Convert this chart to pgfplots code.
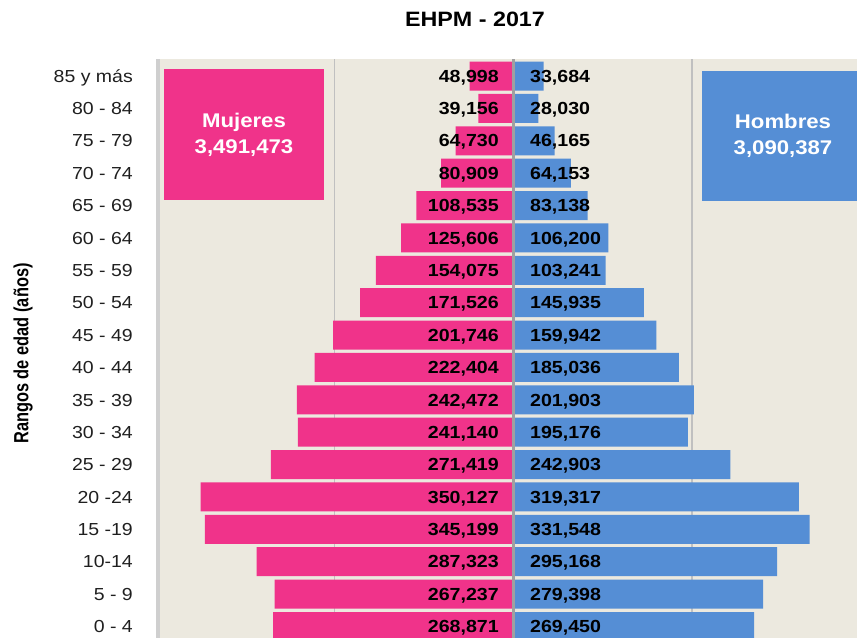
\documentclass[border=0pt]{standalone}
\usepackage{pgfplots}
\pgfplotsset{compat=1.18}
\usepackage{pgfplotstable}
\usepackage{fontspec}
\setmainfont{Liberation Sans}[FakeStretch=1.12]
\newfontfamily\ylabfont{Liberation Sans}[FakeStretch=0.8]
\definecolor{mpink}{HTML}{F0338A}
\definecolor{mblue}{HTML}{558ED5}
\definecolor{bgbeige}{HTML}{ECE9DF}
\definecolor{gridgray}{HTML}{C0C0C0}
\definecolor{centergray}{HTML}{A0A0A0}
\definecolor{leftgray}{HTML}{CFCFCF}

\pgfplotstableread{
idx w m
0 268871 269450
1 267237 279398
2 287323 295168
3 345199 331548
4 350127 319317
5 271419 242903
6 241140 195176
7 242472 201903
8 222404 185036
9 201746 159942
10 171526 145935
11 154075 103241
12 125606 106200
13 108535 83138
14 80909 64153
15 64730 46165
16 39156 28030
17 48998 33684
}\pyr

\begin{document}
\begin{tikzpicture}
\useasboundingbox (-156bp,0bp) rectangle (701bp,638bp);
\clip (-156bp,0bp) rectangle (701bp,638bp);
\begin{axis}[
  scale only axis, width=701bp, height=578.5bp,
  xmin=-400000, xmax=384500, ymin=-0.355, ymax=17.51,
  axis line style={draw=none},
  axis background/.style={fill=bgbeige},
  xtick={-200000,200000}, xticklabels={}, xmajorgrids,
  major grid style={color=gridgray, line width=1.3bp},
  ytick={0,...,17},
  yticklabels={0 - 4, 5 - 9, 10-14, 15 -19, 20 -24, 25 - 29, 30 - 34, 35 - 39, 40 - 44, 45 - 49, 50 - 54, 55 - 59, 60 - 64, 65 - 69, 70 - 74, 75 - 79, 80 - 84, 85 y más},
  major tick length=0pt,
  yticklabel style={anchor=base east, inner sep=0pt, xshift=-23bp, yshift=-6.2bp, font=\fontsize{17.4bp}{20bp}\selectfont, text=black!88},
  /pgf/number format/fixed,
  /pgf/number format/precision=0,
  /pgf/number format/1000 sep={,},
  /pgf/number format/assume math mode=true,
]
\addplot[xbar, bar width=29bp, bar shift=0pt, fill=mpink, draw=none] table[x expr=-\thisrow{w}, y=idx]{\pyr};
\addplot[xbar, bar width=29bp, bar shift=0pt, fill=mblue, draw=none] table[x=m, y=idx]{\pyr};
\addplot[draw=none, mark=none, point meta=explicit, nodes near coords,
  every node near coord/.append style={anchor=base east, inner sep=0pt, yshift=-6.2bp, font=\bfseries\fontsize{17.5bp}{20bp}\selectfont, text=black}]
  table[x expr=-16200, y=idx, meta=w]{\pyr};
\addplot[draw=none, mark=none, point meta=explicit, nodes near coords,
  every node near coord/.append style={anchor=base west, inner sep=0pt, yshift=-6.2bp, font=\bfseries\fontsize{17.5bp}{20bp}\selectfont, text=black}]
  table[x expr=18500, y=idx, meta=m]{\pyr};
\draw[color=centergray, line width=3bp] (axis cs:0,-0.355) -- (axis cs:0,17.51);
\draw[color=leftgray, line width=3.5bp] (axis cs:-397900,-0.355) -- (axis cs:-397900,17.51);
\end{axis}
\fill[mpink] (7.5bp,438bp) rectangle (168bp,569bp);
\node[text=white, font=\bfseries\fontsize{19.8bp}{26bp}\selectfont, align=center] at (88bp,503.5bp) {Mujeres\\3,491,473};
\fill[mblue] (546bp,437bp) rectangle (710bp,567bp);
\node[text=white, font=\bfseries\fontsize{19.8bp}{26bp}\selectfont, align=center] at (627bp,502bp) {Hombres\\3,090,387};
\node[font=\bfseries\fontsize{20.8bp}{24bp}\selectfont] at (319bp,618.5bp) {EHPM - 2017};
\node[rotate=90, font=\ylabfont\bfseries\fontsize{20.5bp}{24bp}\selectfont] at (-133bp,284.5bp) {Rangos de edad (años)};
\end{tikzpicture}
\end{document}
